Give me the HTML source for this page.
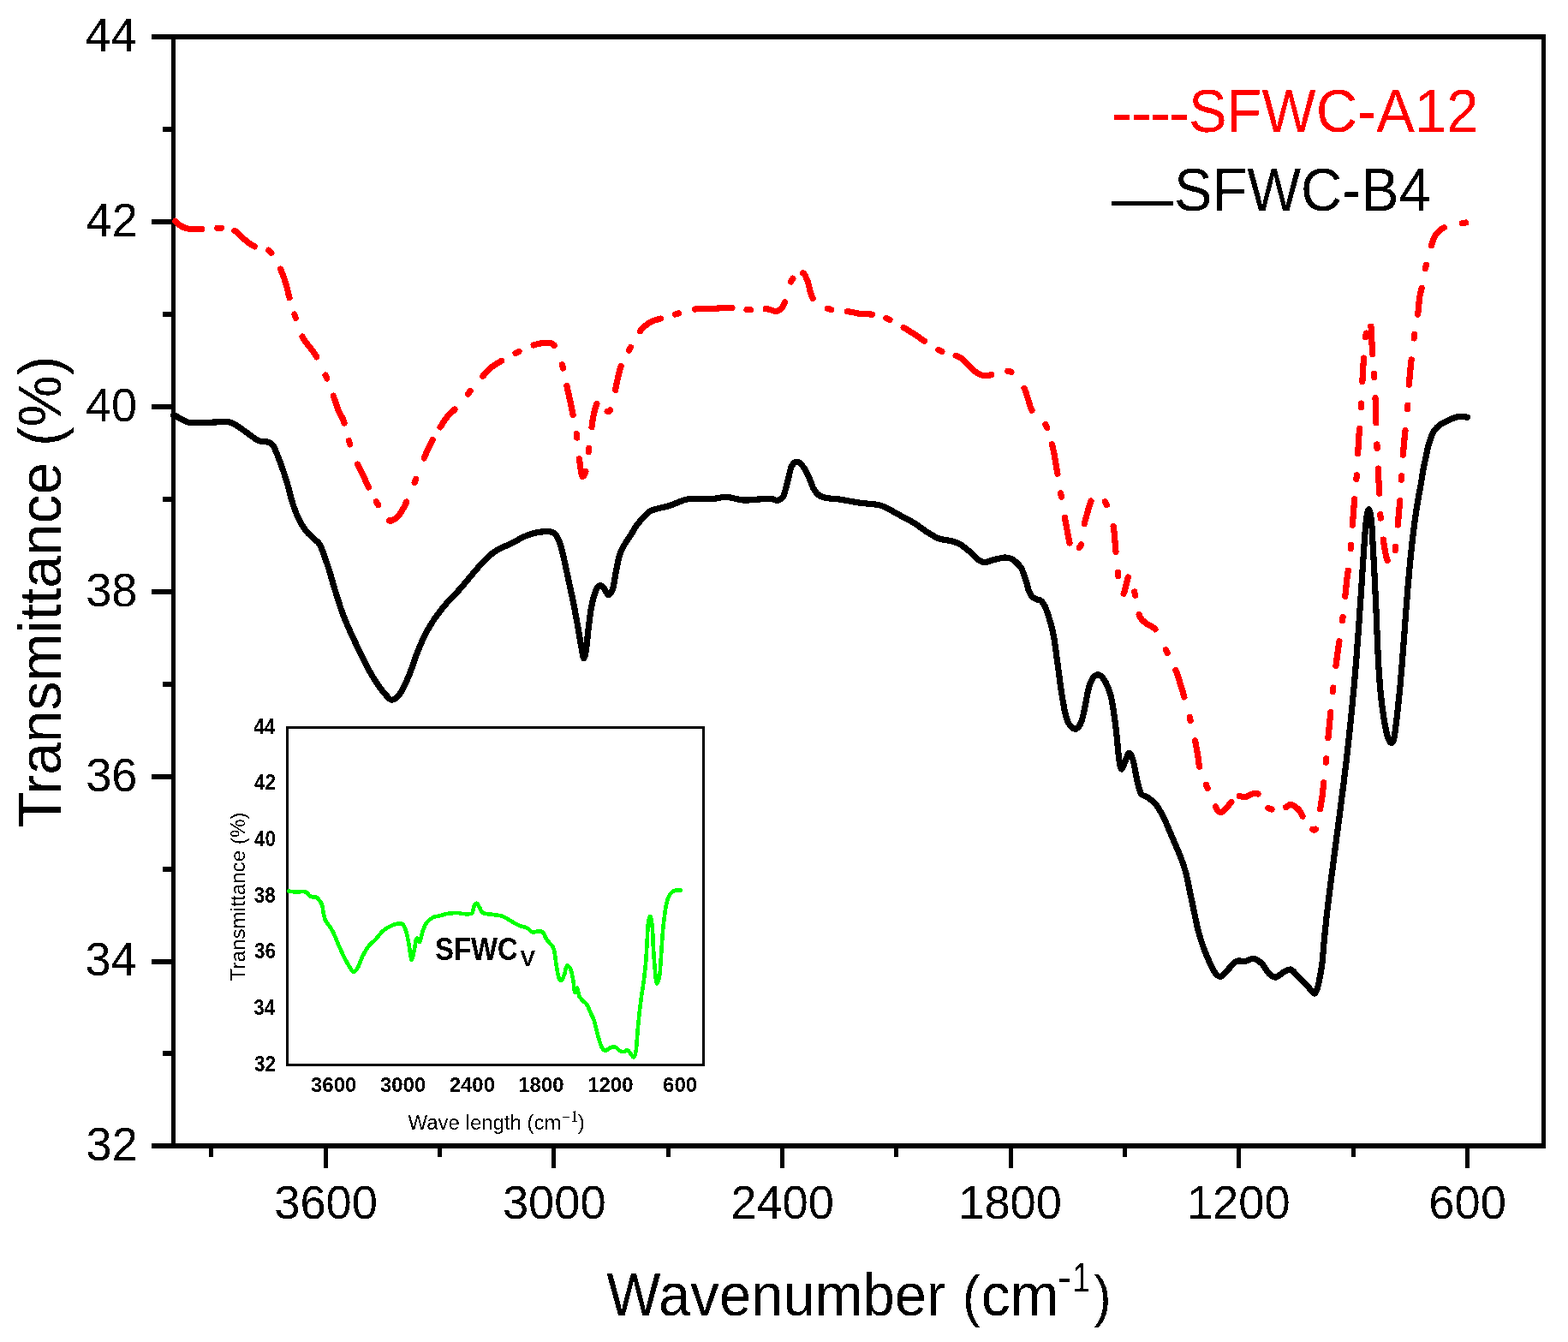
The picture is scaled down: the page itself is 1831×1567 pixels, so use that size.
<!DOCTYPE html>
<html><head><meta charset="utf-8"><title>FTIR spectra</title>
<style>html,body{margin:0;padding:0;background:#fff;} svg{display:block;} text{filter:url(#bin);}</style>
</head><body>
<svg width="1831" height="1567" viewBox="0 0 1831 1567" font-family="'Liberation Sans', Arial, Helvetica, sans-serif"><rect x="0" y="0" width="1831" height="1567" fill="#fff"/>
<defs><filter id="bin" x="-20%" y="-20%" width="140%" height="140%" color-interpolation-filters="sRGB"><feComponentTransfer><feFuncA type="discrete" tableValues="0 1"/></feComponentTransfer></filter></defs>
<rect x="177" y="40" width="1628" height="6" fill="#000"/>
<rect x="177" y="1335" width="1628" height="6" fill="#000"/>
<rect x="200" y="40" width="5" height="1301" fill="#000"/>
<rect x="1800" y="40" width="5" height="1301" fill="#000"/>
<rect x="177" y="40" width="25" height="6" fill="#000"/>
<rect x="190" y="148" width="12" height="6" fill="#000"/>
<rect x="177" y="256" width="25" height="6" fill="#000"/>
<rect x="190" y="364" width="12" height="6" fill="#000"/>
<rect x="177" y="472" width="25" height="6" fill="#000"/>
<rect x="190" y="580" width="12" height="6" fill="#000"/>
<rect x="177" y="688" width="25" height="6" fill="#000"/>
<rect x="190" y="796" width="12" height="6" fill="#000"/>
<rect x="177" y="904" width="25" height="6" fill="#000"/>
<rect x="190" y="1012" width="12" height="6" fill="#000"/>
<rect x="177" y="1120" width="25" height="6" fill="#000"/>
<rect x="190" y="1227" width="12" height="6" fill="#000"/>
<rect x="177" y="1335" width="25" height="6" fill="#000"/>
<rect x="244" y="1338" width="5" height="13" fill="#000"/>
<rect x="378" y="1338" width="5" height="26" fill="#000"/>
<rect x="511" y="1338" width="5" height="13" fill="#000"/>
<rect x="644" y="1338" width="5" height="26" fill="#000"/>
<rect x="778" y="1338" width="5" height="13" fill="#000"/>
<rect x="911" y="1338" width="5" height="26" fill="#000"/>
<rect x="1044" y="1338" width="5" height="13" fill="#000"/>
<rect x="1178" y="1338" width="5" height="26" fill="#000"/>
<rect x="1311" y="1338" width="5" height="13" fill="#000"/>
<rect x="1444" y="1338" width="5" height="26" fill="#000"/>
<rect x="1578" y="1338" width="5" height="13" fill="#000"/>
<rect x="1711" y="1338" width="5" height="26" fill="#000"/>
<g transform="translate(99.48,59.90) scale(0.9580,1)"><text x="0" y="0" font-size="56.40" font-weight="normal" fill="#000">44</text></g>
<g transform="translate(100.62,275.80) scale(0.9580,1)"><text x="0" y="0" font-size="56.40" font-weight="normal" fill="#000">42</text></g>
<g transform="translate(100.01,491.70) scale(0.9580,1)"><text x="0" y="0" font-size="56.40" font-weight="normal" fill="#000">40</text></g>
<g transform="translate(100.25,707.60) scale(0.9580,1)"><text x="0" y="0" font-size="56.40" font-weight="normal" fill="#000">38</text></g>
<g transform="translate(100.28,923.50) scale(0.9580,1)"><text x="0" y="0" font-size="56.40" font-weight="normal" fill="#000">36</text></g>
<g transform="translate(99.48,1139.40) scale(0.9580,1)"><text x="0" y="0" font-size="56.40" font-weight="normal" fill="#000">34</text></g>
<g transform="translate(100.62,1355.30) scale(0.9580,1)"><text x="0" y="0" font-size="56.40" font-weight="normal" fill="#000">32</text></g>
<g transform="translate(320.25,1423.00) scale(0.9620,1)"><text x="0" y="0" font-size="56.40" font-weight="normal" fill="#000">3600</text></g>
<g transform="translate(586.92,1423.00) scale(0.9620,1)"><text x="0" y="0" font-size="56.40" font-weight="normal" fill="#000">3000</text></g>
<g transform="translate(853.26,1423.00) scale(0.9620,1)"><text x="0" y="0" font-size="56.40" font-weight="normal" fill="#000">2400</text></g>
<g transform="translate(1119.22,1423.00) scale(0.9620,1)"><text x="0" y="0" font-size="56.40" font-weight="normal" fill="#000">1800</text></g>
<g transform="translate(1385.89,1423.00) scale(0.9620,1)"><text x="0" y="0" font-size="56.40" font-weight="normal" fill="#000">1200</text></g>
<g transform="translate(1668.33,1423.00) scale(0.9620,1)"><text x="0" y="0" font-size="56.40" font-weight="normal" fill="#000">600</text></g>
<g transform="translate(708.31,1536.00) scale(0.9605,1)"><text x="0" y="0" font-size="69.80" font-weight="normal" fill="#000">Wavenumber</text></g>
<g transform="translate(1123.96,1535.80) scale(0.9372,1)"><text x="0" y="0" font-size="66.00" font-weight="normal" fill="#000">(</text></g>
<g transform="translate(1145.81,1536.00) scale(0.9734,1)"><text x="0" y="0" font-size="69.80" font-weight="normal" fill="#000">cm</text></g>
<g transform="translate(1234.56,1508.30) scale(1.0500,1)"><text x="0" y="0" font-size="48.00" font-weight="normal" fill="#000">-</text></g>
<g transform="translate(1252.50,1508.00) scale(0.7500,1)"><text x="0" y="0" font-size="48.00" font-weight="normal" fill="#000">1</text></g>
<g transform="translate(1277.45,1536.00) scale(0.9150,1)"><text x="0" y="0" font-size="66.00" font-weight="normal" fill="#000">)</text></g>
<g transform="translate(71,966.22) rotate(-90) scale(0.97,1)"><text x="0" y="0" font-size="69.8" fill="#000">Transmittance (%)</text></g>
<g transform="translate(1297.72,157.50) scale(0.9575,1)"><text x="0" y="0" font-size="77.00" font-weight="normal" fill="#ff0000">-</text></g>
<g transform="translate(1320.22,157.50) scale(0.9575,1)"><text x="0" y="0" font-size="77.00" font-weight="normal" fill="#ff0000">-</text></g>
<g transform="translate(1342.72,157.50) scale(0.9575,1)"><text x="0" y="0" font-size="77.00" font-weight="normal" fill="#ff0000">-</text></g>
<g transform="translate(1365.02,157.50) scale(0.9575,1)"><text x="0" y="0" font-size="77.00" font-weight="normal" fill="#ff0000">-</text></g>
<g transform="translate(1387.96,154.00) scale(0.9592,1)"><text x="0" y="0" font-size="69.80" font-weight="normal" fill="#ff0000">SFWC-A12</text></g>
<rect x="1298" y="235" width="72" height="5" fill="#000"/>
<g transform="translate(1370.97,246.00) scale(0.9550,1)"><text x="0" y="0" font-size="69.80" font-weight="normal" fill="#000">SFWC-B4</text></g>
<path d="M202.5,484.5 C202.9,484.7 203.4,484.6 205.1,485.5 C206.8,486.4 210.2,488.7 212.8,490.0 C215.4,491.3 216.2,492.6 220.4,493.2 C224.7,493.8 233.2,493.4 238.3,493.4 C243.4,493.4 246.3,493.1 251.0,493.0 C255.7,492.9 262.1,491.8 266.4,492.5 C270.7,493.2 272.8,494.8 276.6,497.0 C280.4,499.2 285.1,503.1 289.3,506.0 C293.5,508.9 298.2,512.9 302.0,514.6 C305.8,516.3 309.5,515.1 312.3,516.0 C315.1,516.9 316.6,517.0 318.7,520.0 C320.8,523.0 322.9,528.7 325.0,534.0 C327.1,539.3 329.6,546.2 331.5,552.0 C333.4,557.8 334.9,562.6 336.6,568.5 C338.3,574.4 339.8,581.7 341.7,587.6 C343.6,593.5 345.4,598.7 348.0,604.0 C350.6,609.3 353.8,615.2 357.0,619.5 C360.2,623.8 364.4,626.9 367.2,629.7 C370.0,632.6 371.2,631.4 373.8,636.6 C376.4,641.8 380.0,652.5 382.8,660.8 C385.6,669.1 387.6,677.5 390.4,686.4 C393.2,695.3 396.4,706.1 399.4,714.4 C402.4,722.7 405.1,728.8 408.3,736.0 C411.5,743.2 414.9,750.3 418.5,757.8 C422.1,765.3 426.2,773.8 430.0,780.8 C433.8,787.8 437.9,794.7 441.5,800.0 C445.1,805.3 448.9,809.8 451.7,812.7 C454.4,815.6 455.4,817.7 458.0,817.2 C460.6,816.8 463.8,814.6 467.0,810.0 C470.2,805.4 473.8,797.8 477.2,789.8 C480.6,781.8 484.0,770.2 487.4,761.7 C490.8,753.2 494.2,745.3 497.6,738.7 C501.0,732.1 504.0,727.5 507.8,722.0 C511.6,716.5 515.9,711.0 520.6,705.5 C525.3,700.0 530.9,694.8 536.0,689.0 C541.1,683.2 547.2,675.7 551.2,671.0 C555.2,666.3 557.2,663.9 560.0,660.8 C562.8,657.7 564.9,655.1 567.7,652.5 C570.5,649.9 573.6,647.0 576.6,644.9 C579.6,642.8 581.9,641.6 585.5,639.8 C589.1,638.0 594.0,636.1 598.3,634.0 C602.5,631.9 606.8,628.9 611.0,627.0 C615.2,625.1 619.5,623.6 623.8,622.5 C628.1,621.4 633.2,620.8 636.6,620.6 C640.0,620.4 642.1,620.6 644.2,621.3 C646.3,621.9 647.6,622.0 649.3,624.5 C651.0,627.0 652.9,631.5 654.4,636.0 C655.9,640.5 657.0,645.8 658.3,651.3 C659.6,656.8 660.8,663.0 662.1,669.0 C663.4,675.0 664.7,681.0 666.0,687.0 C667.3,693.0 668.5,698.5 669.8,704.9 C671.1,711.3 672.3,718.3 673.6,725.3 C674.9,732.3 676.3,740.5 677.4,747.0 C678.5,753.5 679.6,760.4 680.4,764.0 C681.2,767.6 681.3,769.5 682.0,768.5 C682.7,767.5 683.6,764.4 684.5,758.0 C685.4,751.6 686.6,737.8 687.6,730.0 C688.6,722.2 689.1,716.9 690.2,711.0 C691.3,705.1 692.7,698.9 694.0,694.7 C695.3,690.5 696.5,687.5 697.8,685.7 C699.1,683.9 700.4,683.6 701.7,683.8 C703.0,684.0 704.0,685.2 705.5,687.0 C707.0,688.8 708.9,694.7 710.6,694.7 C712.3,694.7 714.2,691.7 715.7,687.0 C717.2,682.3 718.2,673.0 719.5,666.6 C720.8,660.2 721.9,653.6 723.4,648.7 C724.9,643.8 726.4,641.0 728.5,637.2 C730.6,633.4 733.5,629.7 736.0,625.7 C738.5,621.7 741.2,616.6 743.8,613.0 C746.4,609.4 748.9,606.7 751.4,604.0 C753.9,601.3 756.2,598.7 759.0,597.0 C761.8,595.3 764.5,594.9 768.4,593.8 C772.3,592.7 777.9,591.8 782.6,590.3 C787.3,588.8 792.8,585.9 796.8,584.6 C800.8,583.3 800.8,582.9 806.7,582.5 C812.6,582.1 825.4,582.9 832.3,582.5 C839.2,582.1 842.0,580.1 847.9,580.4 C853.8,580.6 862.1,583.5 867.8,584.0 C873.5,584.5 876.5,583.5 882.0,583.2 C887.5,583.0 896.2,582.3 900.5,582.5 C904.8,582.7 905.2,584.8 907.6,584.3 C910.0,583.8 912.6,583.7 914.7,579.6 C916.8,575.5 918.6,565.7 920.3,559.8 C921.9,553.9 922.7,547.4 924.6,544.0 C926.5,540.6 929.3,538.8 931.7,539.2 C934.1,539.6 936.7,543.3 938.8,546.3 C940.9,549.3 942.6,552.9 944.5,557.0 C946.4,561.1 948.1,567.3 950.2,571.0 C952.3,574.7 954.5,577.2 957.3,579.0 C960.1,580.8 963.2,581.1 967.2,581.8 C971.2,582.5 976.0,582.4 981.4,583.2 C986.8,584.0 995.4,585.8 999.9,586.5 C1004.4,587.2 1004.0,587.2 1008.5,587.7 C1013.0,588.2 1021.7,588.5 1026.9,589.8 C1032.1,591.1 1035.2,593.2 1039.7,595.5 C1044.2,597.8 1049.2,600.7 1053.9,603.3 C1058.6,605.9 1063.4,608.1 1068.1,611.1 C1072.8,614.1 1077.6,618.1 1082.3,621.1 C1087.0,624.1 1091.8,627.1 1096.5,628.9 C1101.2,630.7 1106.7,630.6 1110.7,631.7 C1114.7,632.8 1117.0,633.3 1120.6,635.3 C1124.1,637.3 1128.2,640.6 1132.0,643.8 C1135.8,647.0 1140.3,652.3 1143.4,654.4 C1146.5,656.5 1147.7,656.7 1150.5,656.6 C1153.3,656.5 1156.6,654.6 1160.4,653.7 C1164.2,652.8 1169.8,651.2 1173.2,651.0 C1176.6,650.8 1178.6,651.5 1180.9,652.5 C1183.2,653.5 1185.2,655.2 1187.1,657.0 C1189.0,658.8 1191.0,660.7 1192.5,663.2 C1194.0,665.7 1195.0,669.3 1196.0,672.1 C1197.0,674.9 1197.9,677.2 1198.8,680.2 C1199.7,683.2 1200.4,687.3 1201.4,690.0 C1202.4,692.7 1203.5,694.7 1205.0,696.3 C1206.5,697.9 1208.6,698.9 1210.4,699.8 C1212.2,700.7 1214.1,700.2 1215.7,701.6 C1217.3,703.0 1218.9,705.2 1220.2,707.9 C1221.5,710.6 1222.6,714.1 1223.8,717.7 C1225.0,721.3 1226.2,725.3 1227.3,729.3 C1228.4,733.3 1229.4,737.5 1230.2,741.5 C1231.0,745.5 1231.5,749.2 1232.1,753.4 C1232.7,757.6 1233.3,762.3 1233.9,766.8 C1234.5,771.3 1235.1,775.7 1235.7,780.2 C1236.3,784.7 1236.9,789.1 1237.5,793.6 C1238.1,798.1 1238.6,802.5 1239.3,807.0 C1240.0,811.5 1240.8,816.2 1241.5,820.4 C1242.2,824.6 1242.8,828.3 1243.8,832.0 C1244.7,835.7 1245.6,839.8 1246.9,842.7 C1248.2,845.6 1250.2,848.0 1251.8,849.4 C1253.4,850.8 1254.7,851.9 1256.3,851.2 C1257.9,850.5 1260.1,848.3 1261.6,845.4 C1263.1,842.5 1264.2,837.9 1265.2,833.8 C1266.2,829.6 1267.0,824.9 1267.9,820.4 C1268.8,815.9 1269.5,811.2 1270.5,807.0 C1271.5,802.8 1272.8,798.4 1274.1,795.4 C1275.4,792.4 1277.0,790.3 1278.6,789.1 C1280.2,787.9 1282.1,787.5 1283.9,788.2 C1285.7,789.0 1287.7,791.2 1289.3,793.6 C1290.9,796.0 1292.4,799.1 1293.8,802.5 C1295.1,805.9 1296.4,809.4 1297.5,814.0 C1298.6,818.6 1299.4,823.7 1300.4,830.2 C1301.4,836.7 1302.4,844.1 1303.4,853.0 C1304.4,861.9 1305.5,876.3 1306.5,883.8 C1307.5,891.3 1308.2,897.2 1309.5,898.0 C1310.8,898.8 1312.6,891.5 1314.1,888.4 C1315.6,885.3 1317.2,879.2 1318.7,879.2 C1320.2,879.2 1321.8,883.0 1323.3,888.4 C1324.8,893.8 1326.4,904.9 1327.9,911.3 C1329.4,917.7 1330.5,923.3 1332.5,926.6 C1334.5,929.9 1337.4,929.1 1340.2,931.2 C1343.0,933.3 1346.4,935.1 1349.6,939.1 C1352.8,943.1 1355.9,948.7 1359.1,955.1 C1362.3,961.5 1365.5,970.0 1368.7,977.4 C1371.9,984.8 1375.6,992.9 1378.3,999.8 C1381.0,1006.7 1382.8,1012.0 1384.7,1018.9 C1386.6,1025.8 1387.9,1033.8 1389.5,1041.3 C1391.1,1048.8 1392.6,1056.2 1394.2,1063.6 C1395.8,1071.0 1397.1,1078.7 1399.0,1085.9 C1400.9,1093.1 1403.0,1100.1 1405.4,1106.7 C1407.8,1113.3 1411.0,1120.8 1413.4,1125.8 C1415.8,1130.8 1417.8,1134.6 1419.8,1137.0 C1421.8,1139.4 1423.3,1140.7 1425.4,1140.2 C1427.5,1139.7 1429.5,1136.7 1432.5,1133.8 C1435.5,1130.9 1440.2,1124.5 1443.7,1122.6 C1447.2,1120.7 1449.8,1123.1 1453.3,1122.6 C1456.8,1122.1 1461.0,1118.9 1464.4,1119.4 C1467.9,1119.9 1471.1,1122.9 1474.0,1125.8 C1476.9,1128.7 1479.3,1134.5 1482.0,1137.0 C1484.7,1139.5 1487.1,1141.4 1490.0,1141.0 C1492.9,1140.6 1496.6,1136.1 1499.5,1134.6 C1502.4,1133.1 1504.8,1131.3 1507.5,1132.2 C1510.2,1133.1 1512.4,1137.2 1515.5,1140.2 C1518.6,1143.2 1523.5,1147.7 1526.1,1150.4 C1528.7,1153.1 1529.5,1154.8 1531.0,1156.5 C1532.5,1158.2 1533.6,1160.5 1534.8,1160.3 C1536.0,1160.0 1537.0,1157.5 1538.0,1155.0 C1539.0,1152.5 1539.5,1150.0 1540.5,1145.0 C1541.5,1140.0 1543.0,1132.5 1543.9,1125.0 C1544.8,1117.5 1545.3,1108.3 1546.1,1100.0 C1546.9,1091.7 1547.7,1083.3 1548.6,1075.0 C1549.5,1066.7 1550.5,1058.3 1551.5,1050.0 C1552.5,1041.7 1553.6,1033.3 1554.7,1025.0 C1555.8,1016.7 1556.8,1008.3 1557.9,1000.0 C1559.0,991.7 1560.1,983.3 1561.2,975.0 C1562.3,966.7 1563.4,958.3 1564.5,950.0 C1565.6,941.7 1566.7,933.3 1567.7,925.0 C1568.8,916.7 1569.8,908.3 1570.8,900.0 C1571.8,891.7 1572.8,883.3 1573.7,875.0 C1574.6,866.7 1575.5,858.3 1576.4,850.0 C1577.3,841.7 1578.1,833.3 1578.9,825.0 C1579.7,816.7 1580.5,808.3 1581.3,800.0 C1582.0,791.7 1582.7,783.3 1583.4,775.0 C1584.1,766.7 1584.7,758.3 1585.3,750.0 C1585.9,741.7 1586.5,733.3 1587.1,725.0 C1587.7,716.7 1588.2,708.3 1588.8,700.0 C1589.4,691.7 1590.0,683.3 1590.5,675.0 C1591.0,666.7 1591.6,657.5 1592.1,650.0 C1592.6,642.5 1593.1,636.0 1593.5,630.0 C1593.9,624.0 1594.2,618.8 1594.7,614.0 C1595.2,609.2 1595.7,604.2 1596.3,601.0 C1596.9,597.8 1597.7,594.5 1598.4,594.5 C1599.1,594.5 1599.8,597.8 1600.4,601.0 C1601.0,604.2 1601.5,609.2 1601.9,614.0 C1602.3,618.8 1602.5,624.0 1602.8,630.0 C1603.1,636.0 1603.5,642.5 1603.9,650.0 C1604.3,657.5 1604.8,666.7 1605.2,675.0 C1605.6,683.3 1606.0,691.7 1606.4,700.0 C1606.8,708.3 1607.2,716.7 1607.5,725.0 C1607.8,733.3 1608.1,741.7 1608.5,750.0 C1608.9,758.3 1609.2,766.7 1609.7,775.0 C1610.2,783.3 1610.8,792.5 1611.4,800.0 C1612.0,807.5 1612.7,814.2 1613.4,820.0 C1614.1,825.8 1614.7,830.3 1615.4,835.0 C1616.1,839.7 1616.9,844.2 1617.6,848.0 C1618.3,851.8 1619.0,855.2 1619.7,858.0 C1620.4,860.8 1621.2,863.0 1622.0,864.5 C1622.8,866.0 1623.8,867.2 1624.6,867.3 C1625.4,867.4 1626.3,866.7 1627.0,865.0 C1627.7,863.3 1628.2,860.3 1628.7,857.0 C1629.2,853.7 1629.8,849.5 1630.3,845.0 C1630.8,840.5 1631.5,835.0 1632.0,830.0 C1632.5,825.0 1633.1,820.0 1633.6,815.0 C1634.1,810.0 1634.6,805.8 1635.1,800.0 C1635.6,794.2 1636.2,786.7 1636.8,780.0 C1637.3,773.3 1637.9,766.7 1638.4,760.0 C1638.9,753.3 1639.4,746.7 1639.9,740.0 C1640.4,733.3 1640.8,726.7 1641.3,720.0 C1641.8,713.3 1642.4,706.7 1642.9,700.0 C1643.4,693.3 1643.9,686.7 1644.5,680.0 C1645.1,673.3 1645.7,666.7 1646.3,660.0 C1646.9,653.3 1647.6,646.7 1648.3,640.0 C1649.0,633.3 1649.8,626.7 1650.6,620.0 C1651.4,613.3 1652.3,606.7 1653.3,600.0 C1654.3,593.3 1655.6,585.3 1656.5,580.0 C1657.4,574.7 1658.0,572.7 1658.7,568.4 C1659.5,564.1 1660.3,558.6 1661.0,554.3 C1661.7,550.0 1662.4,546.0 1663.1,542.6 C1663.8,539.2 1664.4,536.7 1665.0,533.8 C1665.6,530.9 1666.2,527.6 1666.8,525.0 C1667.4,522.4 1668.1,520.0 1668.7,517.9 C1669.3,515.8 1669.9,514.0 1670.6,512.1 C1671.3,510.2 1672.0,508.4 1672.7,506.8 C1673.4,505.2 1674.1,504.0 1675.0,502.7 C1675.9,501.4 1676.9,500.2 1678.0,499.1 C1679.1,498.0 1680.2,496.8 1681.5,495.9 C1682.8,495.0 1684.1,494.4 1685.6,493.6 C1687.1,492.8 1688.5,492.0 1690.3,491.2 C1692.1,490.4 1694.2,489.3 1696.2,488.6 C1698.2,487.9 1700.0,487.2 1702.0,486.8 C1704.0,486.4 1706.0,486.4 1707.9,486.5 C1709.8,486.6 1712.5,487.2 1713.4,487.3" fill="none" stroke="#000" stroke-width="7.2" stroke-linejoin="round" stroke-linecap="round" shape-rendering="crispEdges"/>
<path d="M204.8,258.2 206.0,259.4 207.2,260.6 208.4,261.7 209.7,262.8 211.0,263.7 212.3,264.4 213.9,265.2 215.3,265.8 216.8,266.4 218.6,266.8 220.1,267.1 221.9,267.3 223.4,267.4 225.1,267.5 226.8,267.6 228.6,267.6 230.4,267.6 232.3,267.5 234.1,267.5 235.9,267.5 M253.9,266.2 255.5,266.2 257.2,266.3 258.3,266.3 M274.0,269.3 275.3,270.1 276.7,271.2 278.1,272.4 279.4,273.7 280.7,275.0 282.0,276.3 283.3,277.6 284.5,278.8 285.8,279.9 287.0,280.8 288.5,282.0 289.9,283.1 291.3,284.2 292.7,285.2 294.2,286.1 295.8,287.0 297.3,287.8 M313.7,292.3 314.9,293.2 316.4,294.6 316.9,295.3 M327.5,314.2 328.2,315.6 329.0,317.5 329.8,319.4 330.5,321.3 331.2,323.1 331.8,324.9 332.4,326.7 332.9,328.5 333.5,330.2 334.0,331.9 334.5,333.5 334.9,335.0 335.3,336.5 335.7,338.4 336.2,340.3 336.6,342.2 337.0,343.8 337.4,345.4 337.9,347.2 338.0,347.7 M343.9,367.1 344.6,369.2 345.1,370.8 345.3,371.3 M353.1,393.1 354.1,395.0 355.1,396.6 356.1,398.1 357.1,399.5 358.1,400.8 359.1,402.0 360.0,403.2 361.3,404.7 362.4,406.2 363.5,407.6 364.6,409.0 365.5,410.2 366.5,411.5 367.6,413.0 368.5,414.6 369.4,416.1 369.8,416.8 M380.1,438.0 381.0,440.0 381.7,441.6 381.8,442.0 M389.2,462.2 389.7,463.6 390.4,465.5 391.0,467.3 391.6,469.1 392.2,470.7 392.7,472.3 393.3,473.9 393.8,475.4 394.3,476.9 394.9,478.3 395.5,479.8 396.3,481.5 397.1,483.0 397.9,484.5 398.7,485.9 399.5,487.5 400.4,489.3 401.0,490.8 401.6,492.6 402.1,494.1 M407.4,514.6 408.1,516.7 408.6,518.4 408.8,518.8 M417.5,542.1 418.3,543.8 419.0,545.3 419.8,546.7 420.7,548.5 421.6,550.1 422.5,551.8 423.4,553.6 424.1,555.0 424.8,556.5 425.5,558.0 426.2,559.5 426.8,561.1 427.5,562.6 428.2,564.2 428.9,565.8 429.6,567.4 430.4,569.0 430.4,569.0 M439.4,585.7 440.1,587.0 441.2,588.8 441.6,589.5 M454.4,607.8 455.9,608.3 457.3,607.9 458.9,607.2 460.3,606.4 461.7,605.5 462.9,604.5 464.1,603.4 465.2,602.2 466.4,600.8 467.6,599.2 468.4,598.0 469.2,596.6 470.1,595.2 470.9,593.7 471.8,592.1 472.6,590.4 473.5,588.6 474.4,586.7 474.7,586.0 M484.1,563.5 484.9,561.4 485.5,559.8 485.7,559.4 M495.2,535.0 495.8,533.5 496.4,532.0 497.1,530.5 497.8,528.9 498.5,527.4 499.2,525.9 499.8,524.5 500.5,523.0 501.2,521.6 501.9,520.2 502.5,518.9 503.5,516.9 504.5,515.0 505.2,513.6 M514.1,498.8 515.0,497.4 515.8,496.0 516.6,494.7 517.4,493.5 518.2,492.2 519.1,490.9 519.9,489.7 520.8,488.4 521.8,487.2 522.8,486.0 523.8,484.9 524.9,483.8 525.9,482.8 527.1,481.7 528.2,480.7 529.4,479.6 530.6,478.4 531.0,478.0 M546.3,460.1 547.7,458.4 548.7,457.2 549.1,456.7 M563.9,439.2 565.2,437.7 566.2,436.6 567.4,435.2 568.5,433.9 569.6,432.7 570.8,431.6 572.1,430.4 573.5,429.2 575.0,428.1 576.6,427.0 578.2,425.9 579.8,424.9 581.2,424.1 582.5,423.3 584.0,422.4 585.5,421.5 585.7,421.4 M602.0,412.3 603.4,411.6 605.2,410.7 606.0,410.3 M623.1,403.0 624.6,402.6 626.2,402.1 627.8,401.7 629.3,401.3 630.9,401.0 632.4,400.7 634.3,400.5 636.2,400.4 637.9,400.4 639.6,400.4 641.2,400.4 642.7,400.6 644.2,401.0 645.6,401.8 647.0,403.0 647.3,403.4 M656.4,425.8 657.0,427.9 657.5,429.5 657.6,430.0 M661.9,450.7 662.2,452.2 662.7,454.2 663.1,456.1 663.5,458.0 663.9,459.7 664.3,461.5 664.7,463.2 665.0,464.9 665.4,466.5 665.8,468.2 666.1,469.8 666.4,471.4 666.7,472.9 667.1,474.7 667.5,476.6 667.9,478.5 668.2,480.0 668.5,481.7 668.9,483.4 669.1,484.6 M673.3,506.7 673.6,508.9 673.9,510.7 673.9,511.1 M676.5,535.7 676.7,537.5 676.9,539.1 677.1,540.7 677.3,542.2 677.5,543.8 677.7,545.3 678.0,547.5 678.3,549.5 678.6,551.4 679.0,553.0 679.4,554.7 680.1,556.3 681.6,555.8 682.4,554.5 683.0,553.1 683.6,551.4 683.9,550.3 M687.3,527.7 687.6,525.5 687.8,523.9 687.9,523.3 M691.0,498.7 691.2,497.1 691.5,494.9 691.8,492.8 692.1,490.8 692.4,488.9 692.7,487.0 693.1,485.2 693.4,483.5 693.7,481.8 694.1,480.3 694.5,478.8 694.9,477.3 695.4,475.8 696.0,474.0 696.6,472.4 696.9,471.6 M709.1,480.2 710.6,480.8 712.0,479.7 712.5,478.9 M718.6,455.3 718.9,453.7 719.3,451.9 719.7,450.0 720.0,448.1 720.4,446.2 720.8,444.4 721.2,442.6 721.6,440.8 722.0,439.2 722.3,437.7 722.8,435.9 723.2,434.3 723.5,432.8 724.0,431.3 724.5,429.7 725.1,427.9 725.2,427.7 M734.5,409.3 735.5,407.4 736.5,405.5 M747.4,386.7 748.7,385.1 749.9,383.8 751.1,382.6 752.2,381.4 753.5,380.4 754.7,379.4 755.9,378.4 757.2,377.5 758.5,376.7 759.8,375.9 761.6,375.1 763.4,374.4 765.3,373.8 767.1,373.3 768.6,372.9 770.1,372.5 771.4,372.1 M788.3,367.1 789.7,366.7 791.7,366.1 792.5,365.9 M811.6,361.1 813.1,360.9 815.1,360.7 817.2,360.5 819.1,360.5 821.1,360.4 823.0,360.4 825.0,360.4 826.9,360.5 828.9,360.5 830.9,360.4 833.0,360.4 835.1,360.3 837.2,360.1 839.3,360.0 841.5,359.8 843.6,359.7 845.8,359.5 847.9,359.4 850.1,359.4 852.2,359.4 854.3,359.4 854.9,359.5 M872.0,361.7 873.5,361.8 875.6,361.8 876.4,361.8 M894.1,360.8 895.9,360.9 897.4,361.1 899.3,361.6 901.1,362.2 902.8,362.8 904.3,363.2 906.2,363.4 908.0,363.1 909.6,362.4 911.0,361.4 912.4,360.1 913.4,358.8 914.5,357.2 915.3,355.7 916.1,354.0 916.6,352.9 M923.6,329.0 924.6,327.0 925.7,325.3 925.8,325.2 M937.7,318.8 939.0,319.8 940.0,321.2 940.7,322.7 941.4,324.5 942.0,325.9 942.6,327.4 943.2,328.9 943.8,330.7 944.4,332.8 944.7,334.3 945.1,335.8 945.5,337.4 945.8,339.0 946.3,340.6 946.7,342.1 947.2,343.7 947.7,345.2 948.3,346.6 949.3,348.5 M966.5,360.3 968.6,361.0 970.7,361.6 M989.5,363.7 991.4,363.9 993.1,364.2 994.6,364.4 996.4,364.8 998.0,365.1 999.5,365.5 1000.9,365.8 1002.5,366.1 1004.2,366.3 1006.0,366.5 1007.8,366.6 1009.6,366.6 1011.4,366.6 1013.3,366.7 1015.3,366.9 1016.8,367.0 1018.3,367.3 M1034.9,371.6 1036.3,372.1 1038.1,372.9 1038.9,373.3 M1055.1,382.5 1056.8,383.5 1058.2,384.3 1059.6,385.1 1060.9,385.9 1062.5,386.9 1064.1,387.9 1065.7,388.9 1067.3,389.9 1068.9,390.9 1070.4,391.9 1071.8,392.9 1073.1,393.8 1074.6,394.8 1076.0,395.9 1077.7,397.0 1079.0,397.9 1079.6,398.3 M1095.8,408.6 1097.2,409.3 1099.1,410.1 1099.9,410.4 M1116.1,415.2 1117.7,415.8 1119.3,416.5 1120.8,417.2 1122.1,418.0 1123.4,418.9 1124.6,419.9 1126.0,421.2 1127.2,422.4 1128.5,423.7 1129.8,425.1 1131.1,426.5 1132.5,428.0 1133.8,429.4 1135.2,430.8 1136.5,432.0 1137.7,433.0 1139.3,434.2 1140.9,435.2 1142.4,436.1 1143.9,436.9 1145.4,437.6 1146.8,438.1 1148.6,438.6 1150.3,438.9 1152.1,438.8 1153.8,438.5 1155.3,438.1 1156.8,437.7 1157.7,437.5 M1176.8,433.2 1178.3,433.5 1180.1,434.2 1180.9,434.7 M1196.0,453.3 1196.7,454.8 1197.3,456.2 1198.0,458.0 1198.5,459.8 1199.1,461.7 1199.7,463.5 1200.2,465.0 1200.7,466.5 1201.2,468.0 1201.6,469.6 1202.0,471.1 1202.4,472.7 1202.9,474.2 1203.5,475.8 1204.1,477.4 1204.9,479.0 1205.0,479.2 M1220.8,495.7 1221.9,497.6 1222.6,499.1 1222.8,499.6 M1228.4,518.9 1228.9,520.9 1229.4,522.9 1229.9,524.9 1230.3,526.7 1230.7,528.4 1231.0,530.0 1231.3,531.6 1231.5,533.1 1231.8,534.6 1232.0,536.1 1232.3,537.7 1232.6,539.2 1232.9,541.1 1233.2,542.9 1233.5,544.7 1233.8,546.5 1234.1,548.5 1234.4,550.1 1234.7,551.8 1234.9,553.1 M1238.6,575.8 1239.0,578.0 1239.3,579.7 1239.4,580.2 M1243.4,604.2 1243.8,606.4 1244.1,608.3 1244.5,610.2 1244.8,612.0 1245.1,613.8 1245.4,615.5 1245.7,617.2 1246.1,618.9 1246.4,620.5 1246.7,622.2 1247.0,623.9 1247.3,625.6 1247.6,627.2 1247.9,628.8 1248.2,630.4 1248.5,631.9 1249.0,633.7 1249.0,634.0 M1260.4,639.6 1261.5,638.2 1262.2,636.7 1262.5,635.8 M1266.2,611.8 1266.6,610.4 1267.0,608.6 1267.5,606.8 1268.0,605.0 1268.5,603.2 1269.0,601.5 1269.5,599.7 1270.0,598.0 1270.5,596.2 1271.0,594.3 1271.6,592.4 1272.1,590.6 1272.7,588.7 1273.3,586.9 1273.8,585.2 1273.9,585.1 M1290.4,585.7 1291.1,587.0 1292.0,588.8 1292.4,589.6 M1300.1,614.5 1300.4,616.8 1300.8,619.4 1301.1,622.1 1301.4,624.9 1301.6,627.8 1301.9,630.7 1302.1,633.6 1302.4,636.4 1302.6,639.2 1302.8,641.8 1303.0,644.3 M1305.3,668.2 1305.4,669.8 1305.6,671.7 1305.8,672.6 M1312.1,693.3 1312.8,691.6 1313.2,690.1 1313.6,688.4 1314.1,686.6 1314.6,684.6 1315.1,682.7 1315.5,680.7 1316.0,678.8 1316.5,677.0 1316.9,675.3 1317.3,673.9 M1324.7,690.9 1325.0,692.5 1325.4,694.3 1325.6,695.2 M1330.1,717.6 1330.8,719.4 1331.6,721.0 1332.4,722.3 1333.5,723.7 1334.7,724.8 1335.9,725.9 1337.1,727.0 1338.5,728.0 1339.9,728.8 1341.4,729.5 1342.8,730.2 1344.2,731.0 1345.6,732.0 1347.0,732.8 1348.3,733.8 1349.0,734.8 M1361.3,758.6 1362.3,760.6 1363.1,762.1 1363.3,762.6 M1372.8,782.3 1373.6,784.2 1374.3,785.9 1374.8,787.5 1375.4,788.9 1376.0,790.8 1376.5,792.6 1377.1,794.5 1377.6,796.4 1378.1,797.9 1378.6,799.5 1379.1,801.0 1379.5,802.5 1380.0,804.0 1380.5,805.6 1381.0,807.2 1381.5,808.9 1382.0,810.6 1382.5,812.5 1382.9,813.9 M1389.2,837.3 1389.7,839.4 1390.1,841.1 1390.2,841.5 M1395.6,864.8 1395.9,866.4 1396.3,868.4 1396.7,870.4 1397.0,872.3 1397.4,874.1 1397.7,875.8 1397.9,877.6 1398.2,879.3 1398.5,880.9 1398.8,882.6 1399.1,884.2 1399.3,885.7 1399.5,887.6 1399.7,889.4 1399.9,891.2 1400.2,893.1 1400.6,894.7 1400.7,895.3 M1408.5,916.3 1409.3,918.4 1409.9,919.9 1410.1,920.4 M1419.4,942.0 1420.3,943.7 1421.2,945.2 1422.1,946.6 1423.2,947.7 1424.6,948.4 1426.1,948.4 1427.6,947.6 1428.8,946.5 1430.1,945.2 1431.2,944.1 1432.4,942.8 1433.6,941.6 1434.7,940.4 1435.8,939.0 1436.9,937.7 1438.0,936.5 1438.0,936.4 M1447.3,929.7 1448.9,929.9 1450.6,930.3 1452.3,930.6 1453.8,930.6 1455.4,930.2 1456.8,929.7 1458.3,929.0 1459.8,928.3 1461.3,927.5 1462.8,926.9 1464.4,926.4 1466.0,926.2 1467.5,926.3 1469.0,927.1 1469.1,927.1 M1481.0,943.3 1482.4,944.2 1483.9,944.8 1485.0,945.0 M1501.6,942.5 1503.0,941.8 1504.4,940.7 1505.6,939.8 1507.2,939.3 1509.0,939.8 1510.4,940.5 1511.8,941.4 1513.2,942.5 1514.5,943.6 1515.8,944.8 1516.9,945.9 1518.0,947.1 1518.8,948.5 1519.5,950.1 1520.2,951.7 1521.0,953.2 1521.1,953.2 M1532.6,968.4 1533.9,969.2 1535.6,969.1 1536.2,968.2 M1541.6,944.7 1541.9,943.1 1542.2,941.3 1542.5,939.4 1542.8,937.5 1543.1,935.5 1543.4,933.4 1543.8,931.3 1544.1,929.1 1544.3,926.9 1544.6,924.5 1544.9,922.1 1545.2,919.6 1545.5,917.0 1545.8,914.4 1545.8,913.9 M1548.2,890.2 1548.4,888.0 1548.6,885.8 M1550.9,861.7 1551.1,859.5 1551.4,856.6 1551.7,853.8 1552.0,851.0 1552.2,848.2 1552.5,845.4 1552.8,842.7 1553.0,839.9 1553.3,837.3 1553.5,834.6 1553.8,831.9 1553.8,831.6 M1556.3,807.5 1556.5,805.3 1556.8,803.1 M1559.9,777.6 1560.2,775.5 1560.6,772.6 1561.0,769.8 1561.3,767.0 1561.7,764.2 1562.1,761.4 1562.5,758.7 1562.9,756.0 1563.3,753.3 1563.7,750.6 1563.9,748.9 M1567.5,724.8 1567.8,722.6 1568.1,720.4 M1570.7,696.3 1571.0,694.1 1571.3,691.2 1571.6,688.4 1571.9,685.6 1572.2,682.8 1572.5,680.0 1572.8,677.3 1573.1,674.5 1573.5,671.9 1573.8,669.2 1574.2,666.5 1574.2,666.1 M1577.2,640.8 1577.4,638.6 1577.6,636.5 M1579.3,613.2 1579.5,611.2 1579.7,608.5 1579.9,605.7 1580.1,602.9 1580.3,600.2 1580.5,597.4 1580.8,594.6 1581.0,591.9 1581.2,589.1 1581.5,586.3 1581.8,583.5 1581.8,582.9 M1583.9,559.2 1584.1,557.0 1584.3,554.8 M1585.7,529.7 1585.8,527.7 1585.9,524.9 1586.1,522.1 1586.2,519.3 1586.4,516.5 1586.6,513.7 1586.8,510.9 1587.0,508.1 1587.2,505.3 1587.4,502.6 1587.6,500.6 M1589.5,475.5 1589.6,473.3 1589.7,471.1 M1590.9,445.7 1591.0,443.7 1591.1,440.9 1591.2,438.2 1591.4,435.4 1591.5,432.7 1591.7,430.1 1591.9,427.3 1592.1,424.5 1592.2,421.6 1592.4,418.8 1592.5,418.1 M1594.6,393.6 1594.9,391.4 1595.2,389.3 1595.3,389.2 M1600.9,381.1 1601.1,382.6 1601.3,384.6 1601.4,386.2 1601.4,388.0 1601.5,389.9 1601.6,391.8 1601.6,393.7 1601.7,395.5 1601.8,397.3 1601.9,399.0 1602.0,400.8 1602.1,402.5 1602.2,404.3 1602.3,406.1 1602.5,408.0 1602.6,409.8 1602.7,411.8 1602.8,413.6 M1604.4,436.2 1604.5,438.4 1604.6,439.9 1604.7,440.6 M1606.0,464.7 1606.1,467.0 1606.2,469.2 1606.2,471.4 1606.3,473.6 1606.4,475.9 1606.4,478.2 1606.5,480.5 1606.5,482.8 1606.6,485.1 1606.7,487.3 1606.7,489.5 1606.8,491.6 1606.9,493.7 1606.9,493.9 M1607.9,519.0 1608.0,521.2 1608.1,523.4 M1609.3,547.1 1609.4,549.3 1609.5,552.2 1609.7,555.0 1609.8,557.9 1609.9,560.6 1610.1,563.4 1610.2,566.1 1610.3,568.8 1610.4,571.6 1610.5,574.3 1610.6,576.2 M1611.8,600.7 1612.0,602.9 1612.2,605.1 M1615.3,630.1 1615.5,631.8 1615.9,634.2 1616.3,636.5 1616.6,638.7 1616.9,640.7 1617.3,642.5 1617.6,644.1 1617.8,645.7 1618.3,647.7 1618.7,649.5 1619.1,651.1 1619.6,652.9 1620.2,654.5 1620.2,654.5 M1629.1,642.8 1629.4,640.6 1629.7,638.5 1629.7,638.4 M1632.3,613.0 1632.5,610.5 1632.6,609.0 1632.8,607.5 1633.0,604.5 1633.3,601.6 1633.5,598.8 1633.7,596.1 1634.0,593.3 1634.2,590.6 1634.4,587.9 1634.6,585.1 1634.6,584.6 M1636.3,560.2 1636.5,558.0 1636.7,555.8 M1638.5,531.3 1638.6,529.4 1638.8,526.7 1639.0,524.0 1639.2,521.2 1639.5,518.5 1639.7,515.7 1640.0,513.0 1640.2,510.2 1640.5,507.4 1640.8,504.6 1641.0,502.6 M1643.5,477.5 1643.7,475.3 1643.9,473.1 M1645.5,449.3 1645.6,447.4 1645.8,444.6 1646.0,441.8 1646.2,439.0 1646.5,436.3 1646.7,433.5 1647.0,430.7 1647.2,427.9 1647.5,425.1 1647.8,422.2 1648.1,420.0 M1651.1,394.9 1651.4,392.7 1651.7,390.5 M1655.5,367.1 1655.8,365.2 1656.1,363.0 1656.3,360.9 1656.5,358.9 1656.7,357.0 1656.9,355.1 1657.0,353.3 1657.2,351.6 1657.4,349.9 1657.6,348.3 1657.8,346.7 1658.1,344.9 1658.4,343.3 1658.8,341.6 1659.2,339.8 1659.6,338.2 1660.1,336.4 1660.1,336.3 M1664.4,313.6 1664.9,311.5 1665.3,309.9 1665.4,309.4 M1671.6,286.7 1672.1,284.9 1672.5,283.3 1673.1,281.6 1673.6,280.1 1674.2,278.7 1674.8,277.2 1675.6,275.8 1676.6,274.3 1677.6,272.9 1678.7,271.7 1680.0,270.4 1681.2,269.2 1682.4,268.1 1683.8,267.0 1685.2,266.2 1686.4,265.6 M1707.3,260.8 1709.1,260.5 1710.6,260.2 1711.7,260.0" fill="none" stroke="#ff0000" stroke-width="7.2" stroke-linejoin="round" stroke-linecap="round" shape-rendering="crispEdges"/>
<rect x="334" y="848" width="488" height="3" fill="#000"/>
<rect x="334" y="1242" width="488" height="3" fill="#000"/>
<rect x="334" y="848" width="3" height="397" fill="#000"/>
<rect x="820" y="848" width="3" height="397" fill="#000"/>
<g transform="translate(296.29,856.80) scale(0.9000,1)"><text x="0" y="0" font-size="24.90" font-weight="bold" fill="#000">44</text></g>
<g transform="translate(297.07,922.46) scale(0.9000,1)"><text x="0" y="0" font-size="24.90" font-weight="bold" fill="#000">42</text></g>
<g transform="translate(297.09,988.12) scale(0.9000,1)"><text x="0" y="0" font-size="24.90" font-weight="bold" fill="#000">40</text></g>
<g transform="translate(296.86,1053.78) scale(0.9000,1)"><text x="0" y="0" font-size="24.90" font-weight="bold" fill="#000">38</text></g>
<g transform="translate(296.98,1119.44) scale(0.9000,1)"><text x="0" y="0" font-size="24.90" font-weight="bold" fill="#000">36</text></g>
<g transform="translate(296.29,1185.10) scale(0.9000,1)"><text x="0" y="0" font-size="24.90" font-weight="bold" fill="#000">34</text></g>
<g transform="translate(297.07,1250.76) scale(0.9000,1)"><text x="0" y="0" font-size="24.90" font-weight="bold" fill="#000">32</text></g>
<g transform="translate(362.97,1274.50) scale(1.0000,1)"><text x="0" y="0" font-size="24.00" font-weight="bold" fill="#000">3600</text></g>
<g transform="translate(443.88,1274.50) scale(1.0000,1)"><text x="0" y="0" font-size="24.00" font-weight="bold" fill="#000">3000</text></g>
<g transform="translate(524.66,1274.50) scale(1.0000,1)"><text x="0" y="0" font-size="24.00" font-weight="bold" fill="#000">2400</text></g>
<g transform="translate(605.24,1274.50) scale(1.0000,1)"><text x="0" y="0" font-size="24.00" font-weight="bold" fill="#000">1800</text></g>
<g transform="translate(686.15,1274.50) scale(1.0000,1)"><text x="0" y="0" font-size="24.00" font-weight="bold" fill="#000">1200</text></g>
<g transform="translate(774.06,1274.50) scale(1.0000,1)"><text x="0" y="0" font-size="24.00" font-weight="bold" fill="#000">600</text></g>
<g transform="translate(476.49,1318.90) scale(0.9840,1)"><text x="0" y="0" font-size="24.40" font-weight="normal" fill="#000">Wave length (cm</text></g>
<g transform="translate(656.00,1310.10) scale(1.0000,1)"><text x="0" y="0" font-size="18.00" font-weight="normal" fill="#000" font-family="'Liberation Serif', 'Times New Roman', serif">−</text></g>
<g transform="translate(666.22,1310.10) scale(1.0000,1)"><text x="0" y="0" font-size="18.00" font-weight="normal" fill="#000" font-family="'Liberation Serif', 'Times New Roman', serif">1</text></g>
<g transform="translate(674.66,1318.90) scale(0.9840,1)"><text x="0" y="0" font-size="24.40" font-weight="normal" fill="#000">)</text></g>
<g transform="translate(286.1,1145.54) rotate(-90) scale(0.982,1)"><text x="0" y="0" font-size="24.7" fill="#000">Transmittance (%)</text></g>
<g transform="translate(508.05,1121.00) scale(0.9126,1)"><text x="0" y="0" font-size="36.05" font-weight="bold" fill="#000">SFWC</text></g>
<g transform="translate(607.62,1127.80) scale(1.0050,1)"><text x="0" y="0" font-size="26.20" font-weight="bold" fill="#000">V</text></g>
<path d="M337.1,1040.5 C338.2,1040.7 340.4,1041.2 343.7,1041.4 C347.0,1041.6 353.9,1040.7 356.8,1041.4 C359.7,1042.1 359.8,1044.8 361.2,1045.8 C362.6,1046.8 364.1,1047.1 365.5,1047.5 C366.9,1047.9 368.4,1047.0 369.9,1048.0 C371.4,1049.0 373.2,1051.5 374.3,1053.2 C375.4,1054.9 375.9,1056.3 376.5,1058.4 C377.1,1060.5 377.1,1063.2 377.7,1065.9 C378.3,1068.6 378.6,1071.9 379.9,1074.6 C381.2,1077.3 383.7,1079.8 385.3,1082.3 C386.9,1084.8 388.1,1086.5 389.7,1089.9 C391.3,1093.4 393.2,1098.5 395.2,1103.0 C397.2,1107.5 399.5,1112.8 401.7,1117.2 C403.9,1121.6 406.5,1126.3 408.3,1129.2 C410.1,1132.1 411.0,1134.7 412.6,1134.7 C414.2,1134.7 416.3,1132.3 418.1,1129.2 C419.9,1126.1 421.6,1120.1 423.6,1116.1 C425.6,1112.1 427.6,1108.5 430.1,1105.2 C432.7,1101.9 436.0,1099.6 438.9,1096.5 C441.8,1093.4 444.7,1089.1 447.6,1086.6 C450.5,1084.0 453.4,1082.6 456.3,1081.2 C459.2,1079.8 462.7,1078.7 465.1,1078.4 C467.5,1078.1 468.9,1077.6 470.5,1079.5 C472.1,1081.4 473.6,1085.2 474.9,1089.9 C476.2,1094.6 477.3,1102.3 478.2,1107.4 C479.1,1112.5 479.6,1119.6 480.4,1120.5 C481.2,1121.4 482.2,1116.6 483.1,1112.8 C484.0,1109.0 485.0,1100.4 485.8,1097.6 C486.6,1094.8 487.3,1095.6 488.0,1095.9 C488.7,1096.2 489.3,1101.1 490.2,1099.7 C491.1,1098.3 492.2,1091.3 493.5,1087.7 C494.8,1084.1 495.8,1080.6 497.8,1077.9 C499.8,1075.2 502.8,1072.8 505.5,1071.3 C508.2,1069.8 511.5,1069.9 514.2,1069.2 C516.9,1068.5 518.6,1067.5 521.9,1067.0 C525.2,1066.5 530.7,1066.0 533.9,1066.0 C537.1,1066.0 538.1,1067.0 540.9,1067.1 C543.7,1067.2 548.7,1068.0 550.8,1066.6 C552.9,1065.1 552.5,1060.4 553.5,1058.4 C554.5,1056.4 555.7,1054.4 556.8,1054.6 C557.9,1054.8 558.8,1057.6 560.0,1059.5 C561.2,1061.4 561.6,1064.6 563.9,1066.0 C566.2,1067.4 569.9,1067.0 573.7,1067.7 C577.5,1068.4 583.2,1068.7 586.8,1069.9 C590.4,1071.1 592.2,1073.0 595.5,1074.8 C598.8,1076.6 603.2,1079.3 606.5,1080.8 C609.8,1082.2 612.7,1082.2 615.2,1083.5 C617.8,1084.8 619.6,1087.8 621.8,1088.4 C624.0,1089.0 626.3,1087.3 628.3,1087.3 C630.3,1087.3 632.2,1086.9 633.8,1088.4 C635.4,1090.0 636.6,1094.3 638.1,1096.6 C639.6,1098.9 641.0,1100.1 642.5,1102.1 C644.0,1104.1 645.7,1104.3 646.9,1108.6 C648.1,1112.9 648.9,1122.5 649.8,1127.9 C650.7,1133.4 651.6,1138.5 652.5,1141.3 C653.4,1144.1 654.2,1145.4 655.2,1144.9 C656.2,1144.5 657.8,1141.3 658.8,1138.6 C659.8,1135.9 660.6,1130.6 661.4,1128.8 C662.2,1127.0 662.8,1127.2 663.7,1127.9 C664.6,1128.6 665.8,1130.2 666.8,1133.2 C667.8,1136.2 668.8,1141.5 669.5,1145.7 C670.2,1150.0 670.5,1157.4 671.3,1158.7 C672.0,1160.0 673.1,1153.0 674.0,1153.8 C674.9,1154.6 675.4,1161.1 676.6,1163.6 C677.8,1166.1 679.6,1167.3 681.1,1169.0 C682.6,1170.7 684.1,1171.1 685.6,1173.5 C687.1,1175.9 688.7,1180.3 690.0,1183.3 C691.3,1186.3 692.6,1188.3 693.6,1191.3 C694.6,1194.3 695.4,1197.8 696.3,1201.2 C697.2,1204.6 698.0,1208.3 699.0,1211.9 C700.0,1215.5 701.3,1220.1 702.6,1222.6 C703.9,1225.1 705.4,1226.9 707.0,1227.1 C708.6,1227.2 710.5,1224.2 712.4,1223.5 C714.3,1222.8 716.7,1222.0 718.6,1222.6 C720.5,1223.2 722.4,1226.2 724.0,1227.1 C725.6,1228.0 727.0,1228.2 728.5,1228.0 C730.0,1227.8 731.7,1225.8 733.0,1226.2 C734.3,1226.6 735.3,1229.3 736.5,1230.6 C737.7,1231.9 739.1,1234.9 740.1,1234.2 C741.1,1233.5 742.0,1231.3 742.8,1226.2 C743.5,1221.1 744.0,1210.5 744.6,1203.8 C745.2,1197.1 745.6,1192.7 746.3,1186.0 C747.0,1179.3 748.1,1170.3 749.0,1163.6 C749.9,1156.9 750.9,1152.1 751.7,1145.7 C752.5,1139.3 753.4,1132.2 754.0,1125.3 C754.6,1118.4 754.9,1111.8 755.4,1104.2 C755.9,1096.6 756.1,1085.3 756.8,1079.6 C757.4,1073.9 758.5,1069.4 759.3,1070.0 C760.1,1070.6 761.1,1076.3 761.8,1083.2 C762.4,1090.1 762.5,1101.1 763.2,1111.2 C763.9,1121.3 765.2,1138.0 766.0,1144.0 C766.8,1150.0 767.0,1148.7 767.8,1147.5 C768.5,1146.3 769.8,1141.6 770.5,1136.8 C771.2,1132.0 771.1,1127.8 771.8,1118.9 C772.4,1110.0 773.6,1092.1 774.4,1083.2 C775.2,1074.3 775.8,1070.5 776.5,1065.6 C777.2,1060.7 777.8,1057.0 778.6,1053.7 C779.4,1050.4 780.2,1048.1 781.4,1046.0 C782.6,1043.9 784.1,1042.1 785.6,1041.0 C787.1,1039.9 789.0,1039.5 790.5,1039.3 C792.0,1039.0 794.0,1039.5 794.7,1039.5" fill="none" stroke="#00ff00" stroke-width="4.6" stroke-linejoin="round" stroke-linecap="round" shape-rendering="crispEdges"/></svg>
</body></html>
